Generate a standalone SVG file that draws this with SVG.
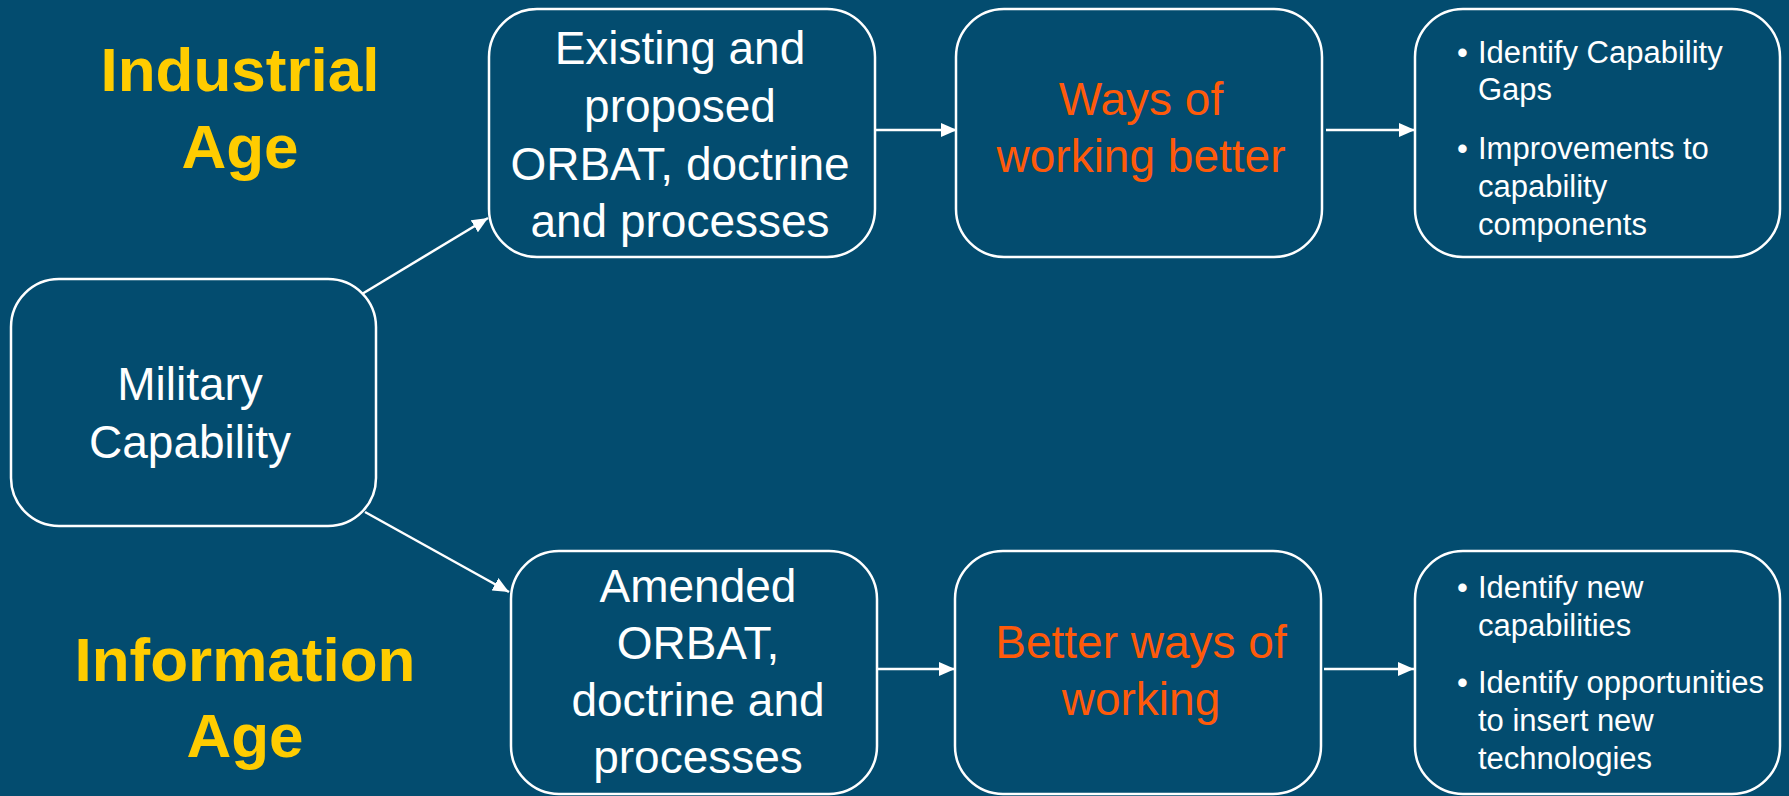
<svg xmlns="http://www.w3.org/2000/svg" width="1789" height="796" viewBox="0 0 1789 796">
<defs>
<style>
.box{fill:#034C6F;stroke:#FFFFFF;stroke-width:2.5}
.t{font-family:"Liberation Sans",Arial,sans-serif;fill:#FFFFFF;text-anchor:middle;font-size:46px}
.o{font-family:"Liberation Sans",Arial,sans-serif;fill:#FF5A0A;text-anchor:middle;font-size:46px}
.age{font-family:"Liberation Sans",Arial,sans-serif;fill:#FFCC00;text-anchor:middle;font-size:62px;font-weight:bold}
.b{font-family:"Liberation Sans",Arial,sans-serif;fill:#FFFFFF;font-size:31px}
.c{stroke:#FFFFFF;stroke-width:2.5;fill:none}
</style>
<marker id="ah" markerWidth="16" markerHeight="14" refX="16" refY="7" orient="auto" markerUnits="userSpaceOnUse">
<path d="M0,0 L16,7 L0,14 Z" fill="#FFFFFF"/>
</marker>
</defs>
<rect width="1789" height="796" fill="#034C6F"/>
<g id="label-industrial">
<text class="age" x="240" y="91">Industrial</text>
<text class="age" x="240" y="168">Age</text>
</g>
<g id="label-information">
<text class="age" x="245" y="681">Information</text>
<text class="age" x="245" y="757">Age</text>
</g>
<g id="connectors">
<line class="c" x1="362" y1="294" x2="488" y2="218" marker-end="url(#ah)"/>
<line class="c" x1="365" y1="512" x2="509" y2="592" marker-end="url(#ah)"/>
<line class="c" x1="875" y1="130" x2="957" y2="130" marker-end="url(#ah)"/>
<line class="c" x1="1326" y1="130" x2="1415" y2="130" marker-end="url(#ah)"/>
<line class="c" x1="877" y1="669" x2="955" y2="669" marker-end="url(#ah)"/>
<line class="c" x1="1324" y1="669" x2="1414" y2="669" marker-end="url(#ah)"/>
</g>
<g id="military">
<rect class="box" x="11" y="279" width="365" height="247" rx="48" ry="48"/>
<text class="t" x="190" y="400">Military</text>
<text class="t" x="190" y="458">Capability</text>
</g>
<g id="existing">
<rect class="box" x="489" y="9" width="386" height="248" rx="48" ry="48"/>
<text class="t" x="680" y="64">Existing and</text>
<text class="t" x="680" y="122">proposed</text>
<text class="t" x="680" y="180">ORBAT, doctrine</text>
<text class="t" x="680" y="237">and processes</text>
</g>
<g id="ways">
<rect class="box" x="956" y="9" width="366" height="248" rx="48" ry="48"/>
<text class="o" x="1141" y="115">Ways of</text>
<text class="o" x="1141" y="172">working better</text>
</g>
<g id="gaps">
<rect class="box" x="1415" y="9" width="365" height="248" rx="48" ry="48"/>
<text class="b" x="1457" y="63">•</text>
<text class="b" x="1478" y="63">Identify Capability</text>
<text class="b" x="1478" y="100">Gaps</text>
<text class="b" x="1457" y="159">•</text>
<text class="b" x="1478" y="159">Improvements to</text>
<text class="b" x="1478" y="197">capability</text>
<text class="b" x="1478" y="235">components</text>
</g>
<g id="amended">
<rect class="box" x="511" y="551" width="366" height="243" rx="48" ry="48"/>
<text class="t" x="698" y="602">Amended</text>
<text class="t" x="698" y="659">ORBAT,</text>
<text class="t" x="698" y="716">doctrine and</text>
<text class="t" x="698" y="773">processes</text>
</g>
<g id="better">
<rect class="box" x="955" y="551" width="366" height="243" rx="48" ry="48"/>
<text class="o" x="1141" y="658">Better ways of</text>
<text class="o" x="1141" y="715">working</text>
</g>
<g id="newcap">
<rect class="box" x="1415" y="551" width="365" height="243" rx="48" ry="48"/>
<text class="b" x="1457" y="598">•</text>
<text class="b" x="1478" y="598">Identify new</text>
<text class="b" x="1478" y="636">capabilities</text>
<text class="b" x="1457" y="693">•</text>
<text class="b" x="1478" y="693">Identify opportunities</text>
<text class="b" x="1478" y="731">to insert new</text>
<text class="b" x="1478" y="769">technologies</text>
</g>
</svg>
